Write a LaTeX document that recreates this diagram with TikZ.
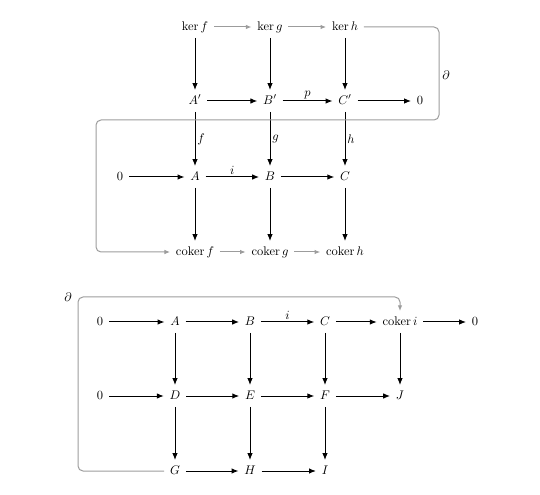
\documentclass[tikz,border=0pt]{standalone}
\usepackage{amsmath}
\usetikzlibrary{arrows.meta,positioning}
\definecolor{loopgrey}{HTML}{9C9C9C}
\tikzset{
  obj/.style   = {inner sep=4.5pt, text height=1.6ex, text depth=.3ex},
  map/.style   = {-{Latex[length=5.5pt,width=4.4pt]}, thick},
  faint/.style = {-{Latex[length=4.5pt,width=3.6pt]}, thick, loopgrey},
  conn/.style  = {thick, loopgrey, rounded corners=4pt},
  lbl/.style   = {inner sep=1.5pt},
}

\begin{document}
\begin{tikzpicture}[x=0.8pt,y=-0.8pt]
  \useasboundingbox (0,0) rectangle (540,495);
  % snake lemma: kernels and cokernels
  \node[obj] (kf) at (195,27) {$\ker f$};
  \node[obj] (kg) at (270,27) {$\ker g$};
  \node[obj] (kh) at (345,27) {$\ker h$};
  \node[obj] (a1) at (195,101) {$A'$};
  \node[obj] (b1) at (270,101) {$B'$};
  \node[obj] (c1) at (345,101) {$C'$};
  \node[obj] (z1) at (420,101) {$0$};
  \node[obj] (z0) at (120,177) {$0$};
  \node[obj] (a) at (195,177) {$A$};
  \node[obj] (b) at (270,177) {$B$};
  \node[obj] (c) at (345,177) {$C$};
  \node[obj] (cf) at (195,252) {$\operatorname{coker} f$};
  \node[obj] (cg) at (270,252) {$\operatorname{coker} g$};
  \node[obj] (ch) at (345,252) {$\operatorname{coker} h$};
  \draw[faint] (kf) -- (kg);
  \draw[faint] (kg) -- (kh);
  \draw[faint] (cf) -- (cg);
  \draw[faint] (cg) -- (ch);
  \draw[map] (kf) -- (a1);
  \draw[map] (kg) -- (b1);
  \draw[map] (kh) -- (c1);
  \draw[map] (a1) -- (b1);
  \draw[map] (b1) -- node[lbl, above] {$p$} (c1);
  \draw[map] (c1) -- (z1);
  \draw[map] (a1) -- node[lbl, right] {$f$} (a);
  \draw[map] (b1) -- node[lbl, right] {$g$} (b);
  \draw[map] (c1) -- node[lbl, right] {$h$} (c);
  \draw[map] (z0) -- (a);
  \draw[map] (a) -- node[lbl, above] {$i$} (b);
  \draw[map] (b) -- (c);
  \draw[map] (a) -- (cf);
  \draw[map] (b) -- (cg);
  \draw[map] (c) -- (ch);
  % connecting map
  \coordinate (t1) at (439,27);
  \coordinate (t2) at (96,120);
  \draw[conn, -{Latex[length=4.5pt,width=3.6pt]}] (kh.east) -- (t1) |- (t2) |- (cf.west);
  \node[lbl] (d1) at (446,75) {$\partial$};

  % second diagram
  \node[obj] (q0) at (100,322) {$0$};
  \node[obj] (qa) at (175,322) {$A$};
  \node[obj] (qb) at (250,322) {$B$};
  \node[obj] (qc) at (325,322) {$C$};
  \node[obj] (ci) at (400,322) {$\operatorname{coker} i$};
  \node[obj] (q1) at (475,322) {$0$};
  \node[obj] (r0) at (100,396) {$0$};
  \node[obj] (d) at (175,396) {$D$};
  \node[obj] (e) at (250,396) {$E$};
  \node[obj] (f) at (325,396) {$F$};
  \node[obj] (j) at (400,396) {$J$};
  \node[obj] (g) at (175,471) {$G$};
  \node[obj] (h) at (250,471) {$H$};
  \node[obj] (ii) at (325,471) {$I$};
  \draw[map] (q0) -- (qa);
  \draw[map] (qa) -- (qb);
  \draw[map] (qb) -- node[lbl, above] {$i$} (qc);
  \draw[map] (qc) -- (ci);
  \draw[map] (ci) -- (q1);
  \draw[map] (qa) -- (d);
  \draw[map] (qb) -- (e);
  \draw[map] (qc) -- (f);
  \draw[map] (ci) -- (j);
  \draw[map] (r0) -- (d);
  \draw[map] (d) -- (e);
  \draw[map] (e) -- (f);
  \draw[map] (f) -- (j);
  \draw[map] (d) -- (g);
  \draw[map] (e) -- (h);
  \draw[map] (f) -- (ii);
  \draw[map] (g) -- (h);
  \draw[map] (h) -- (ii);
  \coordinate (u1) at (78,297);
  \draw[conn, -{Latex[length=4.5pt,width=3.6pt]}] (g.west) -| (u1) -| (ci.north);
  \node[lbl] (d2) at (68,297) {$\partial$};
\end{tikzpicture}
\end{document}
